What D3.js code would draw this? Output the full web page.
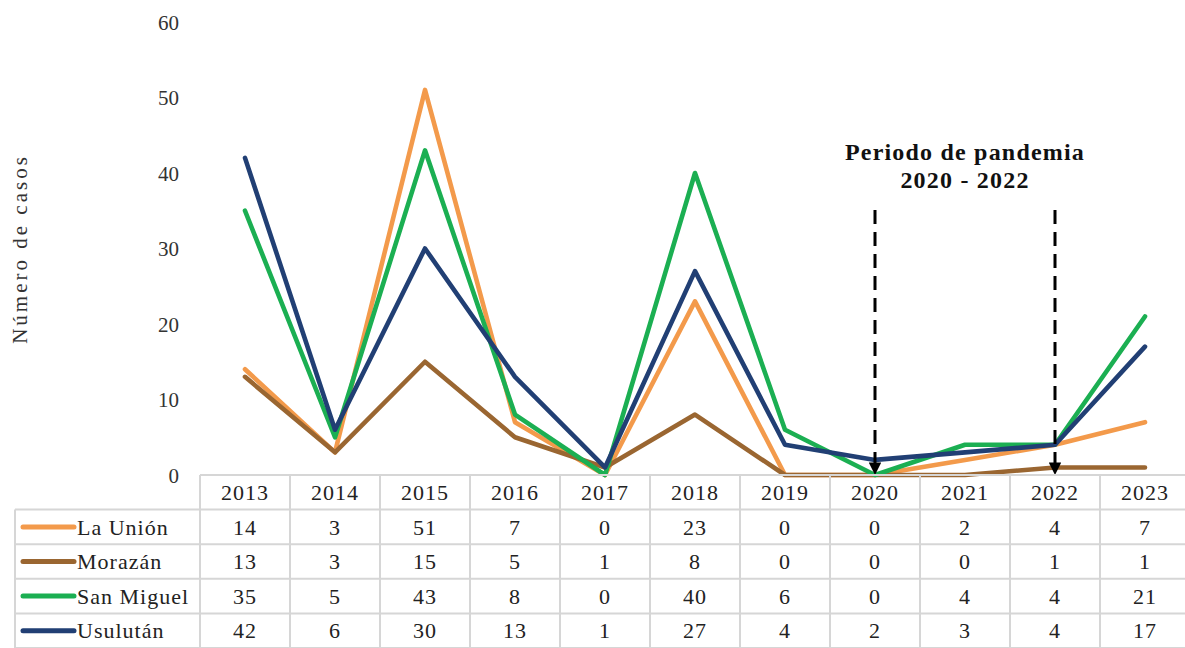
<!DOCTYPE html>
<html>
<head>
<meta charset="utf-8">
<script src="https://cdn.jsdelivr.net/npm/d3@7"></script>
</head>
<body style="margin:0;padding:0;background:#fff">
<svg id="chart" width="1185" height="648" style="display:block" font-family="Liberation Serif"></svg>
<script>
// Casos por departamento, 2013–2023
const years = ["2013","2014","2015","2016","2017","2018","2019","2020","2021","2022","2023"];
const seriesNames = ["La Unión", "Morazán", "San Miguel", "Usulután"];
const laUnion   = [14, 3, 51, 7, 0, 23, 0, 0, 2, 4, 7];
const morazan   = [13, 3, 15, 5, 1, 8, 0, 0, 0, 1, 1];
const sanMiguel = [35, 5, 43, 8, 0, 40, 6, 0, 4, 4, 21];
const usulutan  = [42, 6, 30, 13, 1, 27, 4, 2, 3, 4, 17];
const seriesColors = ["#F39A4B", "#9A6631", "#1BAF52", "#213F74"];
const yTicks = [0, 10, 20, 30, 40, 50, 60];
const pandemicYears = ["2020", "2022"];
const pandemicTitle = ["Periodo de pandemia", "2020 - 2022"];

const seriesValues = [laUnion, morazan, sanMiguel, usulutan];
const series = seriesNames.map((name, i) => ({ name, color: seriesColors[i], values: seriesValues[i] }));

const svg = d3.select("#chart");

// serif face for every label
function serif(sel, size, weight, spacing) {
  sel.attr("font-family", "Liberation Serif")
     .attr("font-size", size)
     .style("font-family", '"Liberation Serif", "Times New Roman", serif')
     .style("font-size", size + "px");
  if (weight) sel.attr("font-weight", weight).style("font-weight", weight);
  if (spacing) sel.attr("letter-spacing", spacing).style("letter-spacing", spacing + "px");
  return sel;
}

const left = 200, colW = 90;
const x = d3.scaleBand().domain(years).range([left, left + colW * years.length]).paddingInner(0).paddingOuter(0);
const xc = d => x(d) + x.bandwidth() / 2;
const y = d3.scaleLinear().domain([0, 60]).range([475, 22]);

// y tick labels (no axis line, no ticks)
const yAxis = d3.axisLeft(y).tickValues(yTicks).tickSize(0).tickPadding(0);
const gy = svg.append("g").attr("transform", "translate(179,0)").call(yAxis);
gy.attr("font-family", "Liberation Serif").attr("font-size", 21);
gy.select(".domain").remove();
serif(gy.selectAll("text"), 21)
  .attr("fill", "#333")
  .attr("dy", "0.34em");

// y axis title
serif(svg.append("text"), 21, null, 3)
  .attr("transform", "translate(27,249) rotate(-90)")
  .attr("text-anchor", "middle")
  .attr("fill", "#333")
  .text("Número de casos");

// lines
const line = d3.line().x((d, i) => xc(years[i])).y(d => y(d));
svg.append("g").selectAll("path")
  .data(series)
  .join("path")
  .attr("d", d => line(d.values))
  .attr("fill", "none")
  .attr("stroke", d => d.color)
  .attr("stroke-width", 4.6)
  .attr("stroke-linejoin", "round")
  .attr("stroke-linecap", "round");

// pandemic period markers
const defs = svg.append("defs");
defs.append("marker")
  .attr("id", "arrowHead")
  .attr("viewBox", "0 0 10 10")
  .attr("refX", 10).attr("refY", 5)
  .attr("markerWidth", 4.2).attr("markerHeight", 4.2)
  .attr("markerUnits", "strokeWidth")
  .attr("orient", "auto")
  .append("path")
  .attr("d", "M0,0 L10,5 L0,10 Z")
  .attr("fill", "#000");

svg.append("g").selectAll("line")
  .data(pandemicYears)
  .join("line")
  .attr("x1", d => xc(d)).attr("x2", d => xc(d))
  .attr("y1", 210).attr("y2", y(0))
  .attr("stroke", "#000")
  .attr("stroke-width", 3)
  .attr("stroke-dasharray", "14,8")
  .attr("marker-end", "url(#arrowHead)");

const midX = (xc(pandemicYears[0]) + xc(pandemicYears[1])) / 2;
serif(svg.append("g").selectAll("text")
  .data(pandemicTitle)
  .join("text"), 24, "bold", 1.2)
  .attr("x", midX)
  .attr("y", (d, i) => 160 + i * 28)
  .attr("text-anchor", "middle")
  .attr("fill", "#111")
  .text(d => d);

// data table
const headerTop = 475, rowH = 34.6;
const legendLeft = 15;
const right = left + colW * years.length;
const grid = svg.append("g").attr("stroke", "#d6d6d6").attr("stroke-width", 2).attr("fill", "none");
const nRows = series.length;
const tableBottom = headerTop + rowH * (nRows + 1);

// horizontal rules
grid.append("line").attr("x1", left).attr("x2", right).attr("y1", headerTop).attr("y2", headerTop);
d3.range(1, nRows + 2).forEach(r => {
  const yy = headerTop + rowH * r;
  grid.append("line").attr("x1", legendLeft).attr("x2", right).attr("y1", yy).attr("y2", yy);
});
// vertical rules
grid.append("line").attr("x1", legendLeft).attr("x2", legendLeft).attr("y1", headerTop + rowH).attr("y2", tableBottom);
years.concat([null]).forEach((yr, i) => {
  const xx = left + colW * i;
  grid.append("line").attr("x1", xx).attr("x2", xx).attr("y1", headerTop).attr("y2", tableBottom);
});

// header labels
serif(svg.append("g").selectAll("text")
  .data(years)
  .join("text"), 22, null, 1)
  .attr("x", d => xc(d))
  .attr("y", headerTop + rowH / 2)
  .attr("dy", "0.35em")
  .attr("text-anchor", "middle")
  .attr("fill", "#222")
  .text(d => d);

// series rows
const rows = svg.append("g").selectAll("g")
  .data(series)
  .join("g")
  .attr("transform", (d, i) => `translate(0,${headerTop + rowH * (i + 1) + rowH / 2})`);

rows.append("line")
  .attr("x1", 23).attr("x2", 74)
  .attr("y1", 0).attr("y2", 0)
  .attr("stroke", d => d.color)
  .attr("stroke-width", 5)
  .attr("stroke-linecap", "round");

serif(rows.append("text"), 22, null, 1)
  .attr("x", 77)
  .attr("dy", "0.35em")
  .attr("fill", "#222")
  .text(d => d.name);

serif(rows.selectAll("text.val")
  .data(d => d.values)
  .join("text"), 22, null, 1)
  .attr("class", "val")
  .attr("x", (v, i) => xc(years[i]))
  .attr("dy", "0.35em")
  .attr("text-anchor", "middle")
  .attr("fill", "#222")
  .text(v => v);
</script>
</body>
</html>
